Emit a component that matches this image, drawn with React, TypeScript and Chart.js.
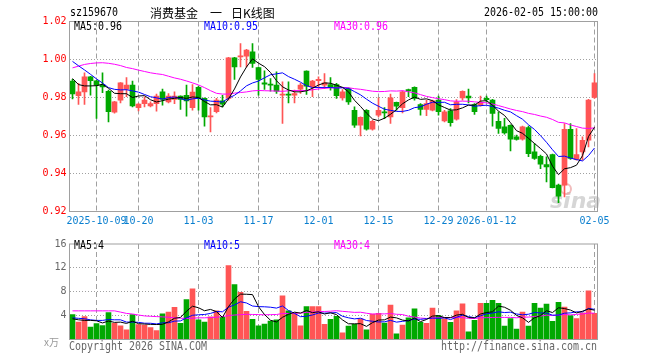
import { useEffect, useRef } from 'react';
import { Chart, registerables } from 'chart.js';

Chart.register(...registerables);

// ---------- data ----------
const tradingDays: Record<string, number[]> = {
  '2025-09': [25, 26, 29, 30],
  '2025-10': [9, 10, 13, 14, 15, 16, 17, 20, 21, 22, 23, 24, 27, 28, 29, 30, 31],
  '2025-11': [3, 4, 5, 6, 7, 10, 11, 12, 13, 14, 17, 18, 19, 20, 21, 24, 25, 26, 27, 28],
  '2025-12': [1, 2, 3, 4, 5, 8, 9, 10, 11, 12, 15, 16, 17, 18, 19, 22, 23, 24, 25, 26, 29, 30, 31],
  '2026-01': [5, 6, 7, 8, 9, 12, 13, 14, 15, 16, 19, 20, 21, 22, 23, 26, 27, 28, 29, 30],
  '2026-02': [2, 3, 4, 5],
};
const categories: string[] = Object.entries(tradingDays).flatMap(([m, ds]) =>
  ds.map((d) => `${m}-${String(d).padStart(2, '0')}`)
);

const tickDates = ['2025-10-09', '2025-10-20', '2025-11-03', '2025-11-17', '2025-12-01', '2025-12-15', '2025-12-29', '2026-01-12', '2026-02-05'];
const tickLabels = ['2025-10-09', '10-20', '11-03', '11-17', '12-01', '12-15', '12-29', '2026-01-12', '02-05'];

const opens = [
  0.9886, 0.9809, 0.9830, 0.9909, 0.9888, 0.9867, 0.9833, 0.9723, 0.9786, 0.9844,
  0.9865, 0.9746, 0.9768, 0.9756, 0.9768, 0.9830, 0.9777, 0.9790, 0.9807, 0.9812,
  0.9746, 0.9853, 0.9795, 0.9698, 0.9725, 0.9782, 0.9795, 1.0009, 1.0014, 1.0018,
  1.0040, 0.9958, 0.9877, 0.9868, 0.9865, 0.9812, 0.9818, 0.9812, 0.9844, 0.9939,
  0.9856, 0.9888, 0.9865, 0.9868, 0.9868, 0.9798, 0.9847, 0.9733, 0.9654, 0.9733,
  0.9633, 0.9707, 0.9725, 0.9698, 0.9774, 0.9747, 0.9842, 0.9853, 0.9763, 0.9737,
  0.9733, 0.9786, 0.9677, 0.9730, 0.9686, 0.9798, 0.9807, 0.9763, 0.9760, 0.9795,
  0.9786, 0.9675, 0.9646, 0.9654, 0.9593, 0.9581, 0.9642, 0.9514, 0.9491, 0.9447,
  0.9500, 0.9339, 0.9339, 0.9633, 0.9474, 0.9514, 0.9575, 0.9800,
];
const highs = [
  0.9895, 0.9874, 0.9930, 0.9912, 0.9890, 0.9930, 0.9839, 0.9780, 0.9879, 0.9905,
  0.9886, 0.9768, 0.9804, 0.9777, 0.9818, 0.9844, 0.9821, 0.9830, 0.9809, 0.9865,
  0.9868, 0.9860, 0.9798, 0.9747, 0.9795, 0.9812, 1.0012, 1.0012, 1.0084, 1.0053,
  1.0084, 0.9960, 0.9940, 0.9900, 0.9935, 0.9882, 0.9882, 0.9839, 0.9874, 0.9940,
  0.9891, 0.9909, 0.9926, 0.9905, 0.9874, 0.9842, 0.9851, 0.9751, 0.9698, 0.9737,
  0.9680, 0.9798, 0.9747, 0.9818, 0.9776, 0.9835, 0.9844, 0.9856, 0.9768, 0.9786,
  0.9786, 0.9807, 0.9733, 0.9742, 0.9789, 0.9835, 0.9844, 0.9768, 0.9807, 0.9807,
  0.9790, 0.9725, 0.9690, 0.9656, 0.9602, 0.9649, 0.9649, 0.9558, 0.9497, 0.9488,
  0.9502, 0.9344, 0.9663, 0.9663, 0.9637, 0.9593, 0.9790, 0.9926,
];
const lows = [
  0.9793, 0.9763, 0.9763, 0.9812, 0.9690, 0.9825, 0.9672, 0.9718, 0.9772, 0.9804,
  0.9751, 0.9730, 0.9751, 0.9751, 0.9728, 0.9760, 0.9772, 0.9768, 0.9737, 0.9702,
  0.9733, 0.9733, 0.9649, 0.9619, 0.9719, 0.9751, 0.9786, 0.9895, 0.9961, 0.9961,
  0.9958, 0.9812, 0.9842, 0.9833, 0.9821, 0.9663, 0.9772, 0.9772, 0.9821, 0.9816,
  0.9804, 0.9856, 0.9847, 0.9839, 0.9795, 0.9786, 0.9763, 0.9642, 0.9598, 0.9628,
  0.9628, 0.9698, 0.9689, 0.9663, 0.9733, 0.9719, 0.9804, 0.9786, 0.9707, 0.9704,
  0.9730, 0.9707, 0.9672, 0.9649, 0.9681, 0.9786, 0.9772, 0.9711, 0.9754, 0.9777,
  0.9649, 0.9611, 0.9607, 0.9519, 0.9575, 0.9575, 0.9488, 0.9474, 0.9426, 0.9356,
  0.9324, 0.9246, 0.9277, 0.9474, 0.9470, 0.9470, 0.9540, 0.9795,
];
const closes = [
  0.9819, 0.9830, 0.9909, 0.9888, 0.9865, 0.9856, 0.9725, 0.9777, 0.9877, 0.9865,
  0.9756, 0.9765, 0.9786, 0.9768, 0.9807, 0.9790, 0.9807, 0.9807, 0.9790, 0.9782,
  0.9828, 0.9795, 0.9698, 0.9704, 0.9786, 0.9765, 1.0009, 0.9961, 1.0019, 1.0049,
  0.9979, 0.9895, 0.9870, 0.9865, 0.9833, 0.9818, 0.9812, 0.9821, 0.9865, 0.9860,
  0.9886, 0.9896, 0.9877, 0.9856, 0.9809, 0.9830, 0.9777, 0.9654, 0.9695, 0.9633,
  0.9675, 0.9733, 0.9719, 0.9798, 0.9754, 0.9830, 0.9835, 0.9795, 0.9737, 0.9768,
  0.9782, 0.9725, 0.9725, 0.9667, 0.9777, 0.9833, 0.9798, 0.9725, 0.9772, 0.9789,
  0.9716, 0.9637, 0.9614, 0.9581, 0.9579, 0.9646, 0.9505, 0.9479, 0.9449, 0.9435,
  0.9326, 0.9281, 0.9633, 0.9479, 0.9500, 0.9575, 0.9786, 0.9877,
];
// volume in units of 万
const volumes = [
  4.16, 2.93, 3.84, 2.08, 2.67, 2.35, 4.53, 2.7, 2.3, 1.6,
  4.16, 2.5, 2.4, 2.0, 1.5, 4.3, 4.6, 5.4, 2.7, 6.7,
  8.5, 3.3, 2.9, 3.8, 4.8, 3.7, 12.4, 9.2, 7.9, 4.7,
  3.4, 2.3, 2.6, 3.1, 3.3, 7.3, 4.8, 4.4, 2.3, 5.5,
  5.5, 5.5, 2.56, 3.36, 3.9, 1.1, 2.24, 2.56, 3.47, 1.6,
  4.27, 4.37, 2.77, 5.76, 0.96, 2.4, 3.63, 5.12, 2.88, 2.72,
  5.28, 4.0, 3.47, 2.88, 4.8, 5.97, 1.28, 3.2, 6.08, 6.08,
  6.56, 6.08, 2.24, 3.52, 1.76, 4.59, 2.24, 6.08, 5.28, 5.92,
  3.04, 6.24, 5.44, 4.0, 3.52, 4.48, 8.16, 4.37,
];

// moving-average values at the left edge (their windows begin before the visible range)
const priceMA5Lead = [0.9900, 0.9868, 0.9861, 0.9861];
const priceMA10Lead = [0.9990, 0.9967, 0.9945, 0.9922, 0.9898, 0.9876, 0.9852, 0.9843, 0.9840];
const priceMA30Lead = [
  0.9956, 0.9965, 0.9974, 0.9979, 0.9982, 0.9983, 0.9980, 0.9975, 0.9968, 0.9958,
  0.9952, 0.9944, 0.9937, 0.9930, 0.9925, 0.9921, 0.9912, 0.9903, 0.9896, 0.9887,
  0.9877, 0.9866, 0.9852, 0.9836, 0.9822, 0.9818, 0.9818, 0.9823, 0.9826,
];
const volMA5Lead = [3.47, 3.3, 3.2, 3.2];
const volMA10Lead = [3.63, 3.55, 3.47, 3.3, 3.2, 3.2, 3.35, 3.3, 3.3];
const volMA30Lead = [
  4.8, 4.8, 4.8, 4.8, 4.8, 4.8, 4.8, 4.8, 4.59, 4.37,
  4.27, 4.1, 3.95, 3.89, 3.84, 3.79, 3.73, 3.63, 3.57, 3.52,
  3.57, 3.63, 3.63, 3.68, 3.73, 3.84, 4.0, 4.1, 4.16,
];

const priceTicks = [0.92, 0.94, 0.96, 0.98, 1.0, 1.02];
const volTicks = [4, 8, 12, 16];

const titleCode = 'sz159670';
const titleName = ['消费基金', '一', '日K线图'];
const titleTime = '2026-02-05 15:00:00';
const priceLegend = ['MA5:0.96', 'MA10:0.95', 'MA30:0.96'];
const volLegend = ['MA5:4', 'MA10:5', 'MA30:4'];
const volUnit = 'x万';
const copyrightLeft = 'Copyright 2026 SINA.COM';
const copyrightRight = 'http://finance.sina.com.cn';

// ---------- helpers ----------
function movingAverage(values: number[], lead: number[], n: number): number[] {
  return values.map((_, i) => {
    if (i < n - 1) return lead[i];
    let s = 0;
    for (let j = i - n + 1; j <= i; j++) s += values[j];
    return s / n;
  });
}

const RED = '#ff5555';
const GREEN = '#00a800';
const MA5C = '#000000';
const MA10C = '#0000ff';
const MA30C = '#ff00ff';
const GRID = '#a0a0a0';
const BORDER = '#a0a0a0';
const MONO = '"DejaVu Sans Mono", monospace';
const SX = 0.83;

function drawMono(ctx: CanvasRenderingContext2D, text: string, x: number, y: number, color: string, align: 'left' | 'right' = 'left') {
  ctx.save();
  ctx.font = `12px ${MONO}`;
  ctx.fillStyle = color;
  ctx.textBaseline = 'middle';
  ctx.textAlign = 'left';
  const w = ctx.measureText(text).width * SX;
  const x0 = align === 'right' ? x - w : x;
  ctx.translate(x0, y);
  ctx.scale(SX, 1);
  ctx.fillText(text, 0, 0);
  ctx.restore();
}

const candleColors = closes.map((c, i) => (c >= opens[i] ? RED : GREEN));
const tickIndexLabel = (i: number): string => {
  const k = tickDates.indexOf(categories[i]);
  return k >= 0 ? tickLabels[k] : '';
};

export default function App() {
  const mainRef = useRef<HTMLCanvasElement>(null);
  const volRef = useRef<HTMLCanvasElement>(null);

  useEffect(() => {
    const ma5 = movingAverage(closes, priceMA5Lead, 5);
    const ma10 = movingAverage(closes, priceMA10Lead, 10);
    const ma30 = movingAverage(closes, priceMA30Lead, 30);
    const vma5 = movingAverage(volumes, volMA5Lead, 5);
    const vma10 = movingAverage(volumes, volMA10Lead, 10);
    const vma30 = movingAverage(volumes, volMA30Lead, 30);

    const lineDs = (label: string, data: number[], color: string) => ({
      type: 'line' as const,
      label,
      data,
      borderColor: color,
      borderWidth: 1,
      pointRadius: 0,
      tension: 0,
      fill: false,
      order: 0,
    });

    const xScale = (height: number, showLabels: boolean) => ({
      offset: true,
      grid: {
        offset: false,
        drawTicks: false,
        lineWidth: 1,
        color: (c: any) => (tickIndexLabel(c.index) ? GRID : 'rgba(0,0,0,0)'),
      },
      border: { display: false, dash: [5, 3] },
      ticks: {
        display: showLabels,
        autoSkip: false,
        maxRotation: 0,
        minRotation: 0,
        padding: 4,
        color: '#0a7fcf',
        font: { family: MONO, size: 10 },
        callback: (_v: any, i: number) => tickIndexLabel(i),
      },
      afterFit: (s: any) => {
        s.height = height;
      },
    });

    const mainDecor = {
      id: 'mainDecor',
      beforeDatasetsDraw(chart: any) {
        const { ctx } = chart;
        ctx.save();
        ctx.font = 'italic bold 22px "DejaVu Sans", sans-serif';
        ctx.fillStyle = 'rgba(200,200,200,0.75)';
        ctx.textBaseline = 'alphabetic';
        ctx.fillText('sina', 550, 208);
        ctx.strokeStyle = 'rgba(235,160,160,0.7)';
        ctx.lineWidth = 2;
        ctx.beginPath();
        ctx.arc(566, 189, 5, 0, Math.PI * 2);
        ctx.stroke();
        ctx.restore();
      },
      afterDraw(chart: any) {
        const { ctx, chartArea: a } = chart;
        ctx.save();
        ctx.setLineDash([]);
        ctx.strokeStyle = BORDER;
        ctx.lineWidth = 1;
        ctx.strokeRect(a.left, a.top, a.right - a.left, a.bottom - a.top);
        ctx.restore();

        drawMono(ctx, titleCode, 70, 13, '#000');
        ctx.save();
        ctx.font = '12px "Noto Sans CJK SC"';
        ctx.fillStyle = '#000';
        ctx.textBaseline = 'middle';
        ctx.fillText(titleName[0], 150, 13);
        ctx.fillText(titleName[1], 210, 13);
        ctx.fillText(titleName[2], 231, 13);
        ctx.restore();
        drawMono(ctx, titleTime, 598, 13, '#000', 'right');

        drawMono(ctx, priceLegend[0], 74, 27, MA5C);
        drawMono(ctx, priceLegend[1], 204, 27, MA10C);
        drawMono(ctx, priceLegend[2], 334, 27, MA30C);
      },
    };

    const volDecor = {
      id: 'volDecor',
      afterDraw(chart: any) {
        const { ctx, chartArea: a } = chart;
        ctx.save();
        ctx.setLineDash([]);
        ctx.strokeStyle = BORDER;
        ctx.lineWidth = 1;
        ctx.strokeRect(a.left, a.top, a.right - a.left, a.bottom - a.top);
        ctx.restore();

        drawMono(ctx, volLegend[0], 74, 11, MA5C);
        drawMono(ctx, volLegend[1], 204, 11, MA10C);
        drawMono(ctx, volLegend[2], 334, 11, MA30C);

        drawMono(ctx, copyrightLeft, 69, 111.5, '#666');
        drawMono(ctx, copyrightRight, 597, 111.5, '#666', 'right');

        ctx.save();
        ctx.font = '10px "Noto Sans CJK SC"';
        ctx.fillStyle = '#999';
        ctx.textBaseline = 'middle';
        ctx.fillText(volUnit, 44, 107);
        ctx.restore();
      },
    };

    const mainChart = new Chart(mainRef.current as HTMLCanvasElement, {
      type: 'bar',
      data: {
        labels: categories,
        datasets: [
          lineDs('MA5', ma5, MA5C),
          lineDs('MA10', ma10, MA10C),
          lineDs('MA30', ma30, MA30C),
          {
            type: 'bar',
            label: 'body',
            data: opens.map((o, i) => [o, closes[i]]) as any,
            backgroundColor: candleColors,
            barThickness: 5,
            grouped: false,
            minBarLength: 1,
            order: 1,
          } as any,
          {
            type: 'bar',
            label: 'wick',
            data: lows.map((l, i) => [l, highs[i]]) as any,
            backgroundColor: candleColors,
            barThickness: 1,
            grouped: false,
            order: 2,
          } as any,
        ],
      },
      options: {
        responsive: false,
        animation: false,
        devicePixelRatio: 1,
        events: [],
        layout: { padding: { top: 21.5, right: 62.5, left: 0, bottom: 0 } },
        plugins: { legend: { display: false }, tooltip: { enabled: false } },
        scales: {
          x: xScale(23.5, true) as any,
          y: {
            min: priceTicks[0],
            max: priceTicks[priceTicks.length - 1],
            afterBuildTicks: (s: any) => {
              s.ticks = priceTicks.map((v) => ({ value: v }));
            },
            grid: {
              drawTicks: false,
              lineWidth: 1,
              color: (c: any) => {
                const v = c.tick ? c.tick.value : 0;
                return v <= priceTicks[0] + 1e-6 || v >= priceTicks[priceTicks.length - 1] - 1e-6 ? 'rgba(0,0,0,0)' : GRID;
              },
            },
            border: { display: false, dash: [1, 2] },
            ticks: {
              padding: 3,
              color: '#ff0000',
              font: { family: MONO, size: 10 },
              callback: (v: any) => Number(v).toFixed(2),
            },
            afterFit: (s: any) => {
              s.width = 69.5;
            },
          } as any,
        },
      },
      plugins: [mainDecor],
    });

    const volChart = new Chart(volRef.current as HTMLCanvasElement, {
      type: 'bar',
      data: {
        labels: categories,
        datasets: [
          lineDs('MA5', vma5, MA5C),
          lineDs('MA10', vma10, MA10C),
          lineDs('MA30', vma30, MA30C),
          {
            type: 'bar',
            label: 'volume',
            data: volumes,
            backgroundColor: candleColors,
            barThickness: 5,
            order: 1,
          } as any,
        ],
      },
      options: {
        responsive: false,
        animation: false,
        devicePixelRatio: 1,
        events: [],
        layout: { padding: { top: 4.5, right: 62.5, left: 0, bottom: 0 } },
        plugins: { legend: { display: false }, tooltip: { enabled: false } },
        scales: {
          x: xScale(20.5, false) as any,
          y: {
            min: 0,
            max: volTicks[volTicks.length - 1],
            afterBuildTicks: (s: any) => {
              s.ticks = [0, ...volTicks].map((v) => ({ value: v }));
            },
            grid: {
              drawTicks: false,
              lineWidth: 1,
              color: (c: any) => {
                const v = c.tick ? c.tick.value : 0;
                return v <= 0 || v >= volTicks[volTicks.length - 1] ? 'rgba(0,0,0,0)' : GRID;
              },
            },
            border: { display: false, dash: [1, 2] },
            ticks: {
              padding: 3,
              color: '#666',
              font: { family: MONO, size: 10 },
              callback: (v: any) => (Number(v) === 0 ? '' : String(v)),
            },
            afterFit: (s: any) => {
              s.width = 69.5;
            },
          } as any,
        },
      },
      plugins: [volDecor],
    });

    return () => {
      mainChart.destroy();
      volChart.destroy();
    };
  }, []);

  return (
    <div style={{ position: 'fixed', left: 0, top: 0, width: 660, height: 360, background: '#fff' }}>
      <canvas ref={mainRef} width={660} height={235} style={{ position: 'absolute', left: 0, top: 0, width: 660, height: 235 }} />
      <canvas ref={volRef} width={660} height={125} style={{ position: 'absolute', left: 0, top: 235, width: 660, height: 125 }} />
    </div>
  );
}
